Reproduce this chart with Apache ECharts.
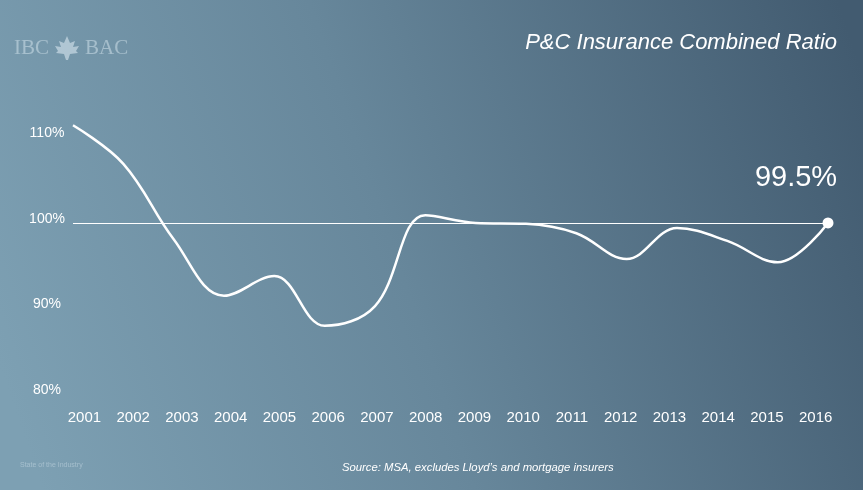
<!DOCTYPE html>
<html>
<head>
<meta charset="utf-8">
<script src="https://cdn.jsdelivr.net/npm/echarts@6/dist/echarts.min.js"></script>
<style>
  html, body { margin: 0; padding: 0; }
  #chart { width: 863px; height: 490px; }
</style>
</head>
<body>
<div id="chart"></div>
<script>
// Combined ratio of the P&C insurance industry, by year
const years = ['2001','2002','2003','2004','2005','2006','2007','2008',
               '2009','2010','2011','2012','2013','2014','2015','2016'];
const combinedRatio = [110.9, 106.4, 97.6, 91.0, 93.3, 87.5, 89.8, 100.4,
                       99.5, 99.4, 98.3, 95.3, 98.9, 97.4, 94.9, 99.5];
const yTicks = [80, 90, 100, 110];
const latestLabel = '99.5%';
const titleText = 'P&C Insurance Combined Ratio';
const sourceText = 'Source: MSA, excludes Lloyd\u2019s and mortgage insurers';

const chart = echarts.init(document.getElementById('chart'), null, { renderer: 'canvas' });
const lastIdx = combinedRatio.length - 1;

const option = {
  animation: false,
  backgroundColor: {
    type: 'linear', x: 0, y: 0.75, x2: 1, y2: 0.15,
    colorStops: [
      { offset: 0, color: '#7da0b3' },
      { offset: 0.45, color: '#67879b' },
      { offset: 1, color: '#425b70' }
    ]
  },
  textStyle: { fontFamily: 'Liberation Sans, Arial, sans-serif' },
  grid: [
    { left: 73, right: 35, top: 133, bottom: 100 },
    { left: 60, right: 23, top: 133, bottom: 100 }
  ],
  xAxis: [
    {
      type: 'category', gridIndex: 0, data: years, boundaryGap: false,
      axisLine: { show: false }, axisTick: { show: false }, axisLabel: { show: false },
      splitLine: { show: false }
    },
    {
      type: 'category', gridIndex: 1, data: years, boundaryGap: true,
      axisLine: { show: false }, axisTick: { show: false },
      axisLabel: { color: '#ffffff', fontSize: 15, margin: 20 },
      splitLine: { show: false }
    }
  ],
  yAxis: [
    {
      type: 'value', gridIndex: 0, min: 80, max: 110, interval: 10,
      axisLine: { show: false }, axisTick: { show: false }, splitLine: { show: false },
      axisLabel: {
        color: '#ffffff', fontSize: 14, align: 'center', margin: 26,
        formatter: v => yTicks.includes(v) ? v + '%' : ''
      }
    },
    {
      type: 'value', gridIndex: 1, min: 80, max: 110, show: false
    }
  ],
  series: [
    {
      type: 'line', xAxisIndex: 0, yAxisIndex: 0,
      data: combinedRatio.map((v, i) => i === lastIdx
        ? { value: v, symbol: 'circle', symbolSize: 11,
            itemStyle: { color: '#ffffff', borderWidth: 0 } }
        : v),
      smooth: 0.38,
      smoothConstraint: false,
      clip: false,
      showSymbol: true,
      symbol: 'none',
      lineStyle: { color: '#ffffff', width: 2.5 },
      markLine: {
        silent: true, symbol: 'none', label: { show: false },
        lineStyle: { color: '#ffffff', width: 1.2, type: 'solid' },
        data: [[
          { coord: [0, combinedRatio[lastIdx]] },
          { coord: [lastIdx, combinedRatio[lastIdx]] }
        ]]
      },
      markPoint: {
        silent: true, symbol: 'circle', symbolSize: 0,
        label: {
          show: true, color: '#ffffff', fontSize: 29, offset: [-32, -45],
          formatter: latestLabel
        },
        data: [{ coord: [lastIdx, combinedRatio[lastIdx]] }]
      }
    }
  ],
  graphic: [
    {
      type: 'text', right: 26, top: 32,
      style: { text: titleText, fill: '#ffffff',
               font: 'italic 22px Liberation Sans, Arial, sans-serif' }
    },
    {
      type: 'text', left: 342, top: 462,
      style: { text: sourceText, fill: '#ffffff',
               font: 'italic 11.3px Liberation Sans, Arial, sans-serif' }
    },
    // faded IBC / BAC wordmark
    {
      type: 'group', left: 14, top: 36, children: [
        { type: 'text', x: 0, y: 0,
          style: { text: 'IBC', fill: 'rgba(215,232,240,0.5)',
                   font: '21px Liberation Serif, serif' } },
        { type: 'polygon', x: 53, y: 11,
          shape: { points: [[0,-13],[3,-6],[8,-8],[6,-2],[12,-3],[9,2],[11,4],[3,5],[1,11],[-1,11],[-3,5],[-11,4],[-9,2],[-12,-3],[-6,-2],[-8,-8],[-3,-6]] },
          style: { fill: 'rgba(225,238,245,0.55)' } },
        { type: 'text', x: 71, y: 0,
          style: { text: 'BAC', fill: 'rgba(215,232,240,0.5)',
                   font: '21px Liberation Serif, serif' } }
      ]
    },
    {
      type: 'text', left: 20, top: 462,
      style: { text: 'State of the Industry', fill: 'rgba(225,238,245,0.4)',
               font: '7px Liberation Sans, Arial, sans-serif' }
    }
  ]
};

chart.setOption(option);
</script>
</body>
</html>
